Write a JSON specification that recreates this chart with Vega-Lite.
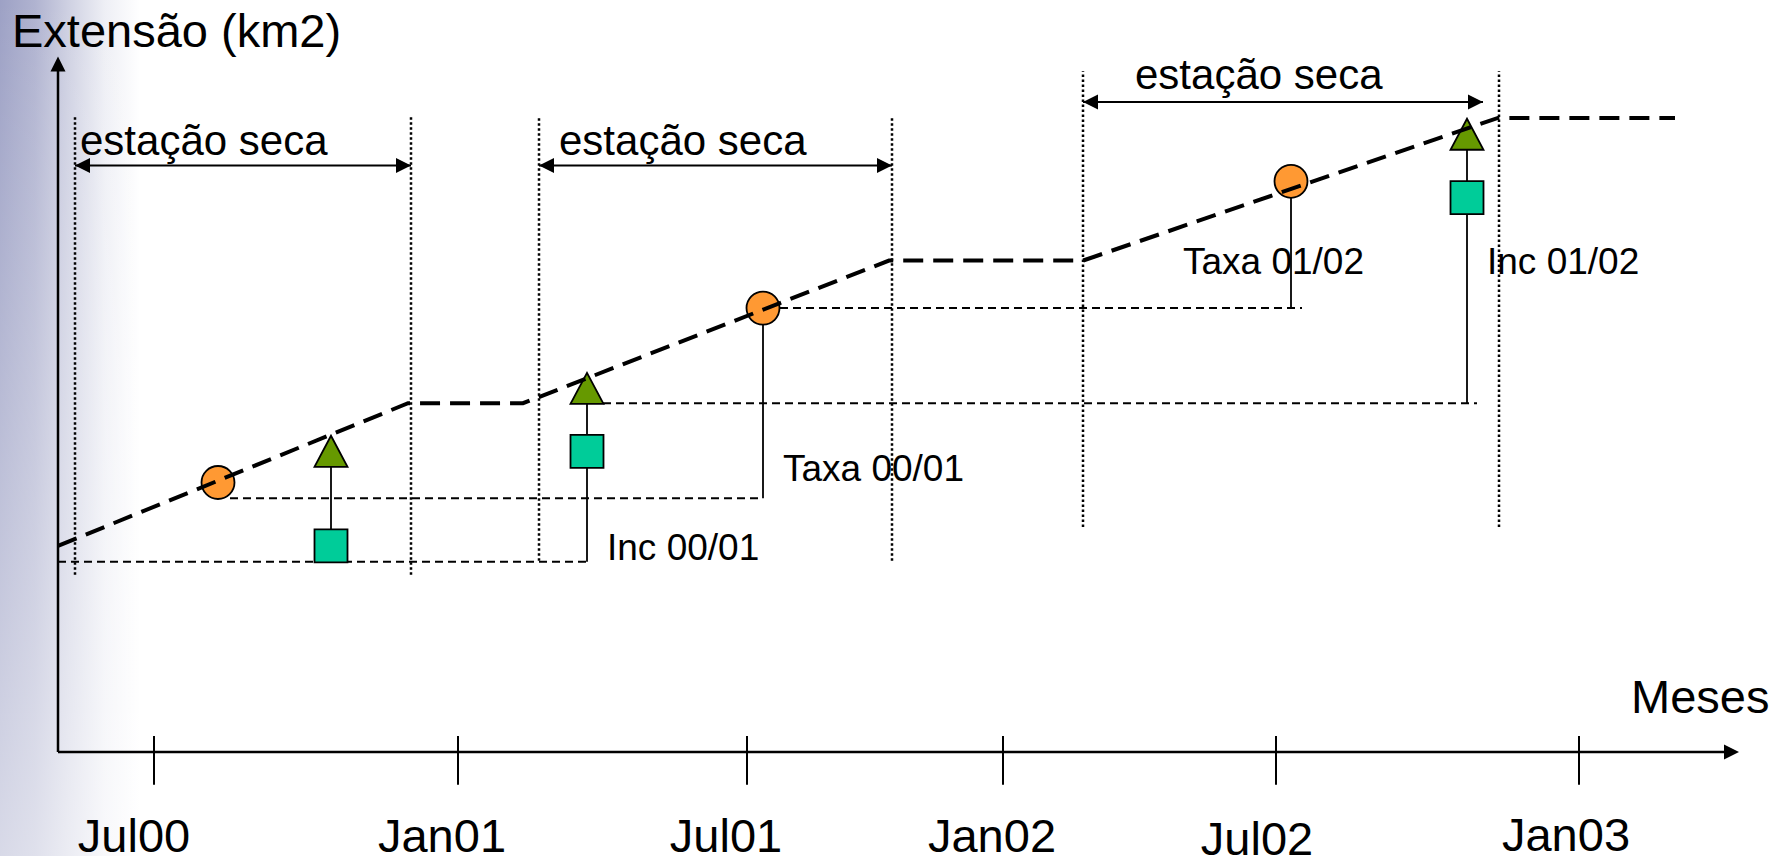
{
  "$schema": "https://vega.github.io/schema/vega-lite/v6.json",
  "width": 1775,
  "height": 864,
  "autosize": {"type": "fit", "contains": "padding"},
  "padding": 0,
  "background": "white",
  "config": {"view": {"stroke": null}, "text": {"font": "Liberation Sans"}},
  "resolve": {"scale": {"shape": "independent", "fill": "independent"}},
  "datasets": {
    "bg": [{"x": 0, "x2": 140, "y": 0, "y2": 864}],
    "dotted": [
      {"x": 75, "y": 284, "y2": 746}, {"x": 411, "y": 284, "y2": 746},
      {"x": 539, "y": 298, "y2": 746}, {"x": 892, "y": 298, "y2": 746},
      {"x": 1083, "y": 332, "y2": 792}, {"x": 1499, "y": 332, "y2": 792}
    ],
    "arrows": [
      {"x": 75, "x2": 411, "y": 697}, {"x": 539, "x2": 892, "y": 697}, {"x": 1083, "x2": 1483, "y": 761}
    ],
    "thin": [
      {"x": 58, "x2": 586, "y": 297}, {"x": 230, "x2": 763, "y": 361},
      {"x": 603, "x2": 1477, "y": 457}, {"x": 780, "x2": 1302, "y": 553}
    ],
    "verticals": [
      {"x": 331, "y": 297, "y2": 394}, {"x": 587, "y": 297, "y2": 457},
      {"x": 763, "y": 361, "y2": 553}, {"x": 1291, "y": 553, "y2": 665},
      {"x": 1467, "y": 457, "y2": 713}
    ],
    "markers": [
      {"x": 218, "y": 377, "tipo": "Taxa"}, {"x": 763, "y": 553, "tipo": "Taxa"}, {"x": 1291, "y": 681, "tipo": "Taxa"},
      {"x": 331, "y": 408.5, "tipo": "IncFim"}, {"x": 587, "y": 472, "tipo": "IncFim"}, {"x": 1467, "y": 728.5, "tipo": "IncFim"},
      {"x": 331, "y": 313, "tipo": "IncIni"}, {"x": 587, "y": 408.5, "tipo": "IncIni"}, {"x": 1467, "y": 664.5, "tipo": "IncIni"}
    ],
    "main": [
      {"x": 58, "y": 313, "o": 1}, {"x": 408, "y": 457, "o": 2}, {"x": 523, "y": 457, "o": 3},
      {"x": 889, "y": 601, "o": 4}, {"x": 1083, "y": 601, "o": 5}, {"x": 1498, "y": 745, "o": 6},
      {"x": 1675, "y": 745, "o": 7}
    ],
    "axes": [
      {"x": 58, "x2": 1731, "y": 105, "y2": 105}, {"x": 58, "x2": 58, "y": 105, "y2": 800}
    ],
    "ticks": [
      {"x": 154, "y": 72, "y2": 121}, {"x": 458, "y": 72, "y2": 121}, {"x": 747, "y": 72, "y2": 121},
      {"x": 1003, "y": 72, "y2": 121}, {"x": 1276, "y": 72, "y2": 121}, {"x": 1579, "y": 72, "y2": 121}
    ],
    "heads": [
      {"x": 82.5, "y": 697, "dir": "left"}, {"x": 403.5, "y": 697, "dir": "right"},
      {"x": 546.5, "y": 697, "dir": "left"}, {"x": 884.5, "y": 697, "dir": "right"},
      {"x": 1090.5, "y": 761, "dir": "left"}, {"x": 1475.5, "y": 761, "dir": "right"},
      {"x": 1731.5, "y": 105, "dir": "right"}, {"x": 58, "y": 799.5, "dir": "up"}
    ],
    "bigText": [
      {"x": 12, "y": 817, "text": "Extensão (km2)"}, {"x": 1631, "y": 144, "text": "Meses"}
    ],
    "seasonText": [
      {"x": 80, "y": 708, "text": "estação seca"}, {"x": 559, "y": 708, "text": "estação seca"},
      {"x": 1135, "y": 774, "text": "estação seca"}
    ],
    "rateText": [
      {"x": 783, "y": 379, "text": "Taxa 00/01"}, {"x": 607, "y": 299, "text": "Inc 00/01"},
      {"x": 1183, "y": 587, "text": "Taxa 01/02"}, {"x": 1487, "y": 587, "text": "Inc 01/02"}
    ],
    "tickText": [
      {"x": 134, "y": 4, "text": "Jul00"}, {"x": 442, "y": 4, "text": "Jan01"},
      {"x": 726, "y": 4, "text": "Jul01"}, {"x": 992, "y": 4, "text": "Jan02"},
      {"x": 1257, "y": 1, "text": "Jul02"}, {"x": 1566, "y": 5, "text": "Jan03"}
    ]
  },
  "encoding": {
    "x": {"field": "x", "type": "quantitative", "scale": {"domain": [0, 1775], "nice": false, "zero": false}, "axis": null},
    "y": {"field": "y", "type": "quantitative", "scale": {"domain": [0, 864], "nice": false, "zero": false}, "axis": null}
  },
  "layer": [
    {
      "data": {"name": "bg"},
      "mark": {"type": "rect", "fill": {"gradient": "linear", "x1": 0, "y1": 0, "x2": 1, "y2": 0,
        "stops": [{"offset": 0, "color": "#9DA1C5"}, {"offset": 0.25, "color": "#B0B3D0"}, {"offset": 0.5, "color": "#D0D2E3"}, {"offset": 0.75, "color": "#EEEFF5"}, {"offset": 1, "color": "#FFFFFF"}]}},
      "encoding": {"x2": {"field": "x2"}, "y2": {"field": "y2"}}
    },
    {
      "data": {"name": "bg"},
      "mark": {"type": "rect", "fill": {"gradient": "linear", "x1": 0, "y1": 0, "x2": 0, "y2": 1,
        "stops": [{"offset": 0, "color": "rgba(255,255,255,0)"}, {"offset": 1, "color": "rgba(255,255,255,0.6)"}]}},
      "encoding": {"x2": {"field": "x2"}, "y2": {"field": "y2"}}
    },
    {
      "data": {"name": "dotted"},
      "mark": {"type": "rule", "color": "black", "strokeWidth": 2.5, "strokeDash": [2.5, 2.5]},
      "encoding": {"y2": {"field": "y2"}}
    },
    {
      "data": {"name": "arrows"},
      "mark": {"type": "rule", "color": "black", "strokeWidth": 2},
      "encoding": {"x2": {"field": "x2"}}
    },
    {
      "data": {"name": "thin"},
      "mark": {"type": "rule", "color": "black", "strokeWidth": 2, "strokeDash": [8, 5]},
      "encoding": {"x2": {"field": "x2"}}
    },
    {
      "data": {"name": "verticals"},
      "mark": {"type": "rule", "color": "black", "strokeWidth": 1.8},
      "encoding": {"y2": {"field": "y2"}}
    },
    {
      "data": {"name": "markers"},
      "mark": {"type": "point", "filled": true, "size": 1089, "stroke": "black", "strokeWidth": 1.8, "opacity": 1},
      "encoding": {
        "shape": {"field": "tipo", "type": "nominal", "legend": null,
          "scale": {"domain": ["Taxa", "IncIni", "IncFim"], "range": ["circle", "square", "M0,-0.94L1,0.94L-1,0.94Z"]}},
        "fill": {"field": "tipo", "type": "nominal", "legend": null,
          "scale": {"domain": ["Taxa", "IncIni", "IncFim"], "range": ["#FF9933", "#00CC99", "#669900"]}}
      }
    },
    {
      "data": {"name": "main"},
      "mark": {"type": "line", "color": "black", "strokeWidth": 4, "strokeDash": [20, 10]},
      "encoding": {"order": {"field": "o", "type": "quantitative"}}
    },
    {
      "data": {"name": "axes"},
      "mark": {"type": "rule", "color": "black", "strokeWidth": 2.5},
      "encoding": {"x2": {"field": "x2"}, "y2": {"field": "y2"}}
    },
    {
      "data": {"name": "ticks"},
      "mark": {"type": "rule", "color": "black", "strokeWidth": 2},
      "encoding": {"y2": {"field": "y2"}}
    },
    {
      "data": {"name": "heads"},
      "mark": {"type": "point", "filled": true, "size": 225, "color": "black", "opacity": 1},
      "encoding": {
        "shape": {"field": "dir", "type": "nominal", "legend": null,
          "scale": {"domain": ["left", "right", "up"], "range": ["M-1,0L1,-1L1,1Z", "M1,0L-1,-1L-1,1Z", "M0,-1L1,1L-1,1Z"]}}
      }
    },
    {
      "data": {"name": "bigText"},
      "mark": {"type": "text", "fontSize": 47, "align": "left", "baseline": "alphabetic", "color": "black"},
      "encoding": {"text": {"field": "text"}}
    },
    {
      "data": {"name": "seasonText"},
      "mark": {"type": "text", "fontSize": 42, "align": "left", "baseline": "alphabetic", "color": "black"},
      "encoding": {"text": {"field": "text"}}
    },
    {
      "data": {"name": "rateText"},
      "mark": {"type": "text", "fontSize": 37, "align": "left", "baseline": "alphabetic", "color": "black"},
      "encoding": {"text": {"field": "text"}}
    },
    {
      "data": {"name": "tickText"},
      "mark": {"type": "text", "fontSize": 47, "align": "center", "baseline": "alphabetic", "color": "black"},
      "encoding": {"text": {"field": "text"}}
    }
  ]
}
